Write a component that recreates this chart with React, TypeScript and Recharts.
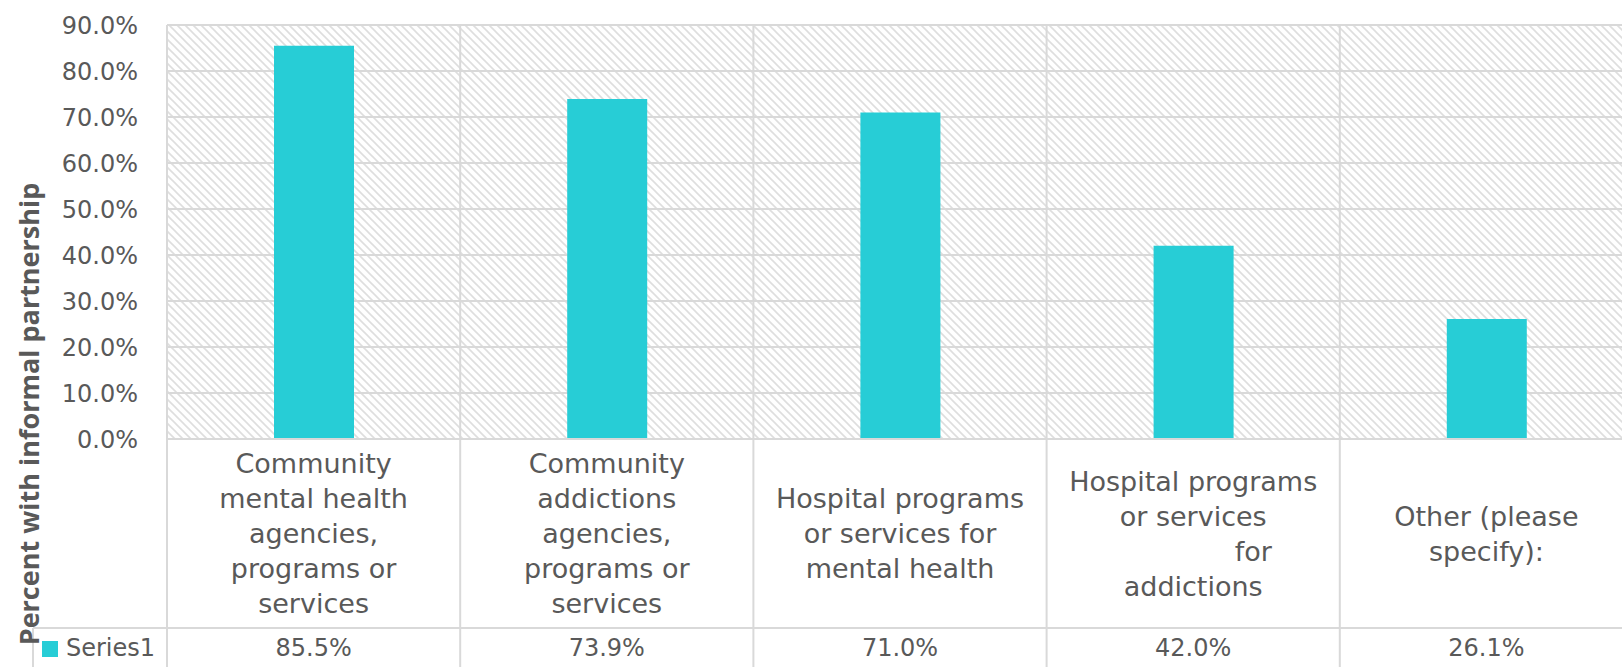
import React from "react"
import { BarChart, Bar, XAxis, YAxis, CartesianGrid } from "recharts"

// chart data
const categories = [
  "Community\nmental health\nagencies,\nprograms or\nservices",
  "Community\naddictions\nagencies,\nprograms or\nservices",
  "Hospital programs\nor services for\nmental health",
  "Hospital programs\nor services\n              for\naddictions",
  "Other (please\nspecify):",
]
const values = [85.5, 73.9, 71.0, 42.0, 26.1]
const yTicks = [0, 10, 20, 30, 40, 50, 60, 70, 80, 90]
const seriesName = "Series1"
const yTitle = "Percent with informal partnership"

// layout
const CHART_W = 1640
const CHART_H = 667
const LEFT = 167
const RIGHT = 7
const TOP = 25
const AXIS_H = 228
const PLOT_BOTTOM = CHART_H - AXIS_H
const ROW_Y = 628
const CELL_W = (CHART_W - LEFT - RIGHT) / categories.length

const barColor = "#27cdd6"
const gridColor = "#d9d9d9"
const textColor = "#595959"
const font = "'DejaVu Sans', sans-serif"

const data = categories.map((c, i) => ({ category: c, value: values[i] }))

function CellTick(props: any) {
  const { x, payload, index } = props
  const lines: string[] = String(payload.value).split("\n")
  const lineH = 35
  const midY = (PLOT_BOTTOM + ROW_Y) / 2
  const firstY = midY - ((lines.length - 1) * lineH) / 2
  const left = x - CELL_W / 2
  return (
    <g>
      <line x1={left} y1={TOP} x2={left} y2={CHART_H} stroke={gridColor} strokeWidth={2} />
      <line x1={left} y1={ROW_Y} x2={left + CELL_W} y2={ROW_Y} stroke={gridColor} strokeWidth={2} />
      {lines.map((ln, i) => (
        <text
          key={i}
          x={x}
          y={firstY + i * lineH}
          textAnchor="middle"
          dominantBaseline="central"
          fill={textColor}
          fontSize={27}
          fontFamily={font}
          style={{ whiteSpace: "pre" }}
        >
          {ln}
        </text>
      ))}
      <text x={x} y={648} textAnchor="middle" dominantBaseline="central" fill={textColor} fontSize={24} fontFamily={font}>
        {values[index].toFixed(1)}%
      </text>
      {index === 0 && (
        <g>
          <line x1={33} y1={ROW_Y} x2={left} y2={ROW_Y} stroke={gridColor} strokeWidth={2} />
          <line x1={33} y1={ROW_Y} x2={33} y2={CHART_H} stroke={gridColor} strokeWidth={2} />
          <rect x={42} y={641} width={16} height={16} fill={barColor} />
          <text x={66} y={648} dominantBaseline="central" fill={textColor} fontSize={24} fontFamily={font}>
            {seriesName}
          </text>
          <text
            x={28}
            y={414}
            transform="rotate(-90 28 414)"
            textAnchor="middle"
            dominantBaseline="central"
            fill={textColor}
            fontSize={27}
            fontWeight={700}
            fontFamily="'Open Sans', sans-serif"
          >
            {yTitle}
          </text>
        </g>
      )}
    </g>
  )
}

export default function App() {
  return (
    <div style={{ position: "absolute", left: 0, top: 0, width: 1622, height: CHART_H, overflow: "hidden", background: "#fff" }}>
      <BarChart width={CHART_W} height={CHART_H} data={data} margin={{ top: TOP, right: RIGHT, bottom: 0, left: 0 }}>
        <defs>
          <pattern id="hatch" width="8" height="8" patternUnits="userSpaceOnUse">
            <rect width="8" height="8" fill="#ffffff" />
            <path d="M-2,-2 L10,10 M-2,6 L2,10 M6,-2 L10,2" stroke="#dedede" strokeWidth={1.6} />
          </pattern>
        </defs>
        <CartesianGrid vertical={false} stroke={gridColor} strokeWidth={2} fill="url(#hatch)" fillOpacity={1} />
        <XAxis
          dataKey="category"
          height={AXIS_H}
          interval={0}
          tickLine={false}
          tickSize={0}
          axisLine={{ stroke: gridColor, strokeWidth: 2 }}
          tick={(p: any) => <CellTick {...p} />}
        />
        <YAxis
          width={LEFT}
          domain={[0, 90]}
          ticks={yTicks}
          axisLine={false}
          tickLine={false}
          tickSize={0}
          tickMargin={29}
          tickFormatter={(v: number) => `${v.toFixed(1)}%`}
          tick={{ fill: textColor, fontSize: 24, fontFamily: font }}
        />
        <Bar dataKey="value" name={seriesName} fill={barColor} barSize={80} isAnimationActive={false} />
      </BarChart>
    </div>
  )
}
